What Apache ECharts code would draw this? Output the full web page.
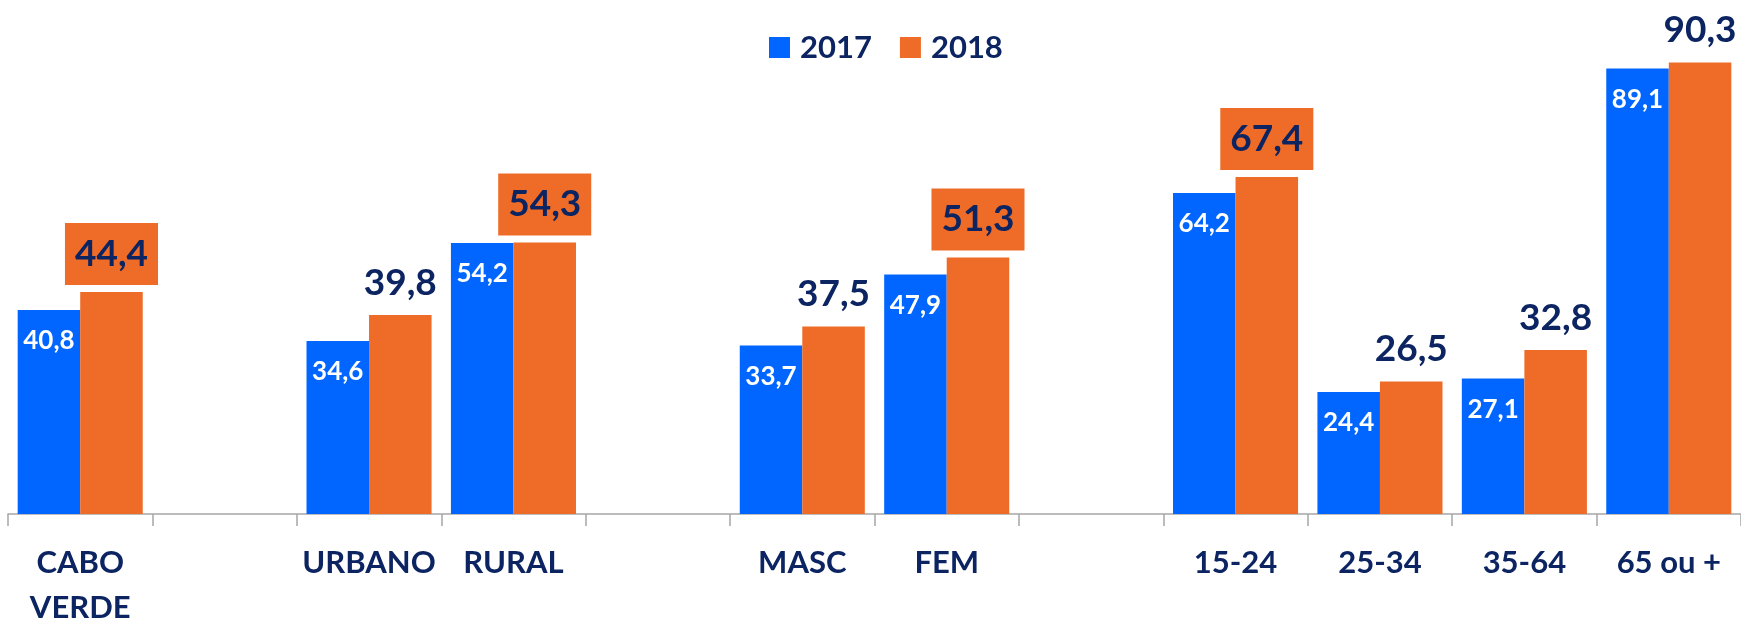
<!DOCTYPE html>
<html>
<head>
<meta charset="utf-8">
<script src="https://cdn.jsdelivr.net/npm/echarts@6/dist/echarts.min.js"></script>
<style>
  html, body { margin: 0; padding: 0; background: #ffffff; }
  #chart { width: 1741px; height: 621px; }
</style>
</head>
<body>
<div id="chart"></div>
<script>
// Categories (blank entries separate the groups)
const categories = ['CABO\nVERDE', ' ', 'URBANO', 'RURAL', '  ', 'MASC', 'FEM', '   ', '15-24', '25-34', '35-64', '65 ou +'];
const values2017 = [40.8, null, 34.6, 54.2, null, 33.7, 47.9, null, 64.2, 24.4, 27.1, 89.1];
const values2018 = [44.4, null, 39.8, 54.3, null, 37.5, 51.3, null, 67.4, 26.5, 32.8, 90.3];
// 2018 values shown in a highlighted box
const boxed2018 = ['CABO\nVERDE', 'RURAL', 'FEM', '15-24'];

const BLUE = '#0066FF';
const ORANGE = '#EE6C28';
const NAVY = '#0C2461';
const FONT = 'Lato, "Open Sans", sans-serif';

const fmt = v => Number(v).toFixed(1).replace('.', ',');

const data2018 = values2018.map((v, i) => {
  if (v == null) return null;
  const isBoxed = boxed2018.includes(categories[i]);
  return {
    value: v,
    label: isBoxed
      ? { backgroundColor: ORANGE, padding: [11, 10], distance: 7 }
      : { padding: [11, 0], distance: 1 }
  };
});

const chart = echarts.init(document.getElementById('chart'));
chart.setOption({
  animation: false,
  legend: {
    data: ['2017', '2018'],
    left: 764,
    top: 27,
    icon: 'rect',
    itemWidth: 21,
    itemHeight: 21,
    itemGap: 28,
    textStyle: {
      fontFamily: FONT,
      fontWeight: 'bold',
      fontSize: 31,
      lineHeight: 31,
      color: NAVY,
      padding: [0, 0, 0, 5]
    }
  },
  grid: { left: 8, right: 0, top: 14, bottom: 107, containLabel: false, outerBoundsMode: 'none' },
  xAxis: {
    type: 'category',
    data: categories,
    boundaryGap: true,
    axisLine: { lineStyle: { color: '#A6A6A6', width: 1.5 } },
    axisTick: { show: true, length: 12, alignWithLabel: false, lineStyle: { color: '#A6A6A6', width: 1.5 } },
    axisLabel: {
      interval: 0,
      margin: 26,
      fontFamily: FONT,
      fontWeight: 'bold',
      fontSize: 31,
      lineHeight: 45,
      color: NAVY
    }
  },
  yAxis: {
    type: 'value',
    min: 0,
    max: 100,
    show: false,
    splitLine: { show: false }
  },
  series: [
    {
      name: '2017',
      type: 'bar',
      data: values2017,
      barGap: '0%',
      barCategoryGap: '13.4%',
      itemStyle: { color: BLUE },
      label: {
        show: true,
        position: 'insideTop',
        distance: 18,
        formatter: p => fmt(p.value),
        fontFamily: FONT,
        fontWeight: 'bold',
        fontSize: 26,
        lineHeight: 26,
        color: '#ffffff'
      }
    },
    {
      name: '2018',
      type: 'bar',
      data: data2018,
      barGap: '0%',
      barCategoryGap: '13.4%',
      itemStyle: { color: ORANGE },
      label: {
        show: true,
        position: 'top',
        formatter: p => fmt(p.value),
        fontFamily: FONT,
        fontWeight: 'bold',
        fontSize: 37,
        lineHeight: 40,
        color: NAVY
      }
    }
  ]
});
</script>
</body>
</html>
